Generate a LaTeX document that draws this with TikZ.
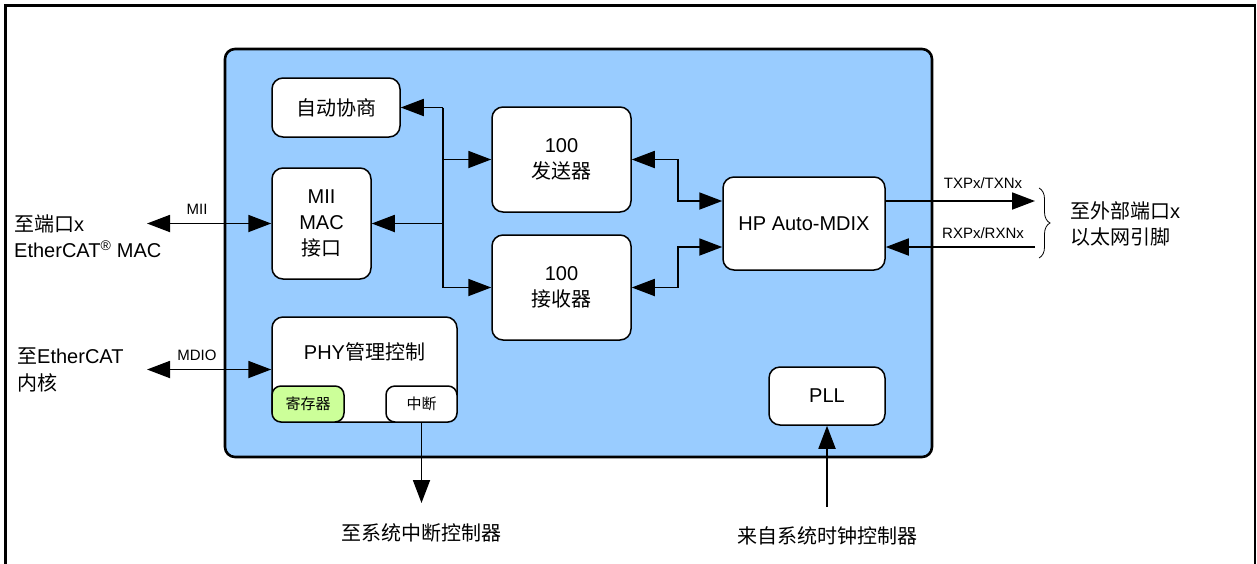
\documentclass[tikz,border=0pt]{standalone}
\usepackage{fontspec}
\setmainfont{Liberation Sans}
\newfontfamily\cjk{Noto Sans CJK SC}
\usetikzlibrary{arrows.meta,decorations.pathreplacing,calc}
\newcommand\zh[1]{{\cjk #1}}
\newcommand\fsz[2]{\fontsize{#1}{#2}\selectfont}
\definecolor{bigblue}{RGB}{153,204,255}
\definecolor{reggreen}{RGB}{204,255,153}
\begin{document}
\begin{tikzpicture}[x=1pt,y=-1pt,
  box/.style={draw,line width=1.5pt,fill=white,rounded corners=11pt,inner sep=0pt,align=center,font=\fsz{20}{26}},
  smallbox/.style={draw,line width=1.5pt,rounded corners=9pt,inner sep=0pt,align=center,font=\fsz{15}{18}},
  txt/.style={inner sep=0pt,font=\fsz{20}{26}},
  lbl/.style={inner sep=0pt,font=\fsz{15}{18}},
  conn/.style={line width=1.8pt},
  tip/.style={conn,-{Triangle[length=23pt,width=17pt]}},
  dtip/.style={conn,{Triangle[length=23pt,width=17pt]}-{Triangle[length=23pt,width=17pt]}},
]
\useasboundingbox (0,0) rectangle (1257,563);
% outer frame
\draw[line width=2.2pt] (5.5,580) -- (5.5,5.5) -- (1255,5.5) -- (1255,580);
% big box
\node[draw,line width=2.6pt,fill=bigblue,rounded corners=10pt,minimum width=707pt,minimum height=408pt,inner sep=0pt] (big) at (578.5,253) {};
% blocks
\node[box,minimum width=128pt,minimum height=59pt] (auto) at (336,107.5) {\zh{自动协商}};
\node[box,minimum width=99pt,minimum height=111pt] (mii) at (321.5,223.5) {MII\\MAC\\\zh{接口}};
\node[box,minimum width=185pt,minimum height=105pt] (phy) at (364.5,369.5) {};
\node[txt] (phytxt) at (364.5,352) {PHY\zh{管理控制}};
\node[smallbox,fill=reggreen,minimum width=72pt,minimum height=36pt] (reg) at (308,404) {\zh{寄存器}};
\node[smallbox,fill=white,minimum width=71pt,minimum height=36pt] (int) at (421.5,404) {\zh{中断}};
\node[box,minimum width=139pt,minimum height=105pt] (tx) at (561.5,159.5) {100\\\zh{发送器}};
\node[box,minimum width=139pt,minimum height=105pt] (rx) at (561.5,287.5) {100\\\zh{接收器}};
\node[box,minimum width=162pt,minimum height=93pt] (mdix) at (804,223.5) {HP Auto-MDIX};
\node[box,minimum width=116pt,minimum height=58pt] (pll) at (827,396) {PLL};
% internal bus
\coordinate (bt) at (443,107.5);
\coordinate (bb) at (443,287.5);
\draw[conn] (bt) -- (bb);
\draw[tip] (bt) -- (auto.east);
\draw[tip] (tx.west -| bt) -- (tx.west);
\draw[tip] (mii.east -| bt) -- (mii.east);
\draw[tip] (bb) -- (rx.west);
% tx/rx to mdix
\draw[dtip] (tx.east) -- ++(46,0) |- ([yshift=22.5pt]mdix.west);
\draw[dtip] (rx.east) -- ++(46,0) |- ([yshift=-23.5pt]mdix.west);
% external left
\coordinate (miiL) at (147,223.5);
\draw[dtip] (miiL) -- (mii.west);
\node[lbl] (miilbl) at (197,209) {MII};
\coordinate (mdioL) at (147,369.5);
\draw[dtip] (mdioL) -- (phy.west);
\node[lbl] (mdiolbl) at (197,355) {MDIO};
\node[txt,anchor=west] (l1) at (14,224) {\zh{至端口}x};
\node[txt,anchor=west] (l2) at (14,249) {EtherCAT\textsuperscript{®} MAC};
\node[txt,anchor=west] (l3) at (17,356) {\zh{至}EtherCAT};
\node[txt,anchor=west] (l4) at (17,383) {\zh{内核}};
% external right
\coordinate (txE) at (1035,201);
\coordinate (rxE) at (1035,247);
\draw[tip] ([yshift=22.5pt]mdix.east) -- (txE);
\draw[tip] (rxE) -- ([yshift=-23.5pt]mdix.east);
\node[lbl] (txlbl) at (983,183) {TXPx/TXNx};
\node[lbl] (rxlbl) at (983,233) {RXPx/RXNx};
\coordinate (brT) at (1039,188);
\coordinate (brB) at (1039,258);
\draw[line width=0.8pt,decorate,decoration={brace,amplitude=11pt}] (brT) -- (brB);
\node[txt,anchor=west] (r1) at (1070,211) {\zh{至外部端口}x};
\node[txt,anchor=west] (r2) at (1070,237) {\zh{以太网引脚}};
% bottom
\coordinate (intE) at (421.5,503);
\draw[tip] (int.south) -- (intE);
\node[txt] (b1) at (421.5,533) {\zh{至系统中断控制器}};
\coordinate (pllS) at (827,507);
\draw[tip] (pllS) -- (pll.south);
\node[txt] (b2) at (827,536) {\zh{来自系统时钟控制器}};
\end{tikzpicture}
\end{document}
